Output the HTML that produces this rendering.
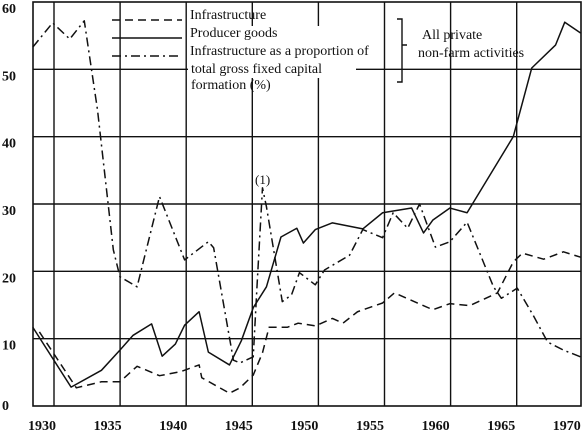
<!DOCTYPE html>
<html><head><meta charset="utf-8"><style>
html,body{margin:0;padding:0;background:#fff}
svg{display:block}
text{font-family:"Liberation Serif",serif;fill:#111}
</style></head><body>
<svg id="c" width="583" height="435" xmlns="http://www.w3.org/2000/svg"></svg>
<script>
const yTicks=[0,10,20,30,40,50,60];
const xTickLabels=[1930,1935,1940,1945,1950,1955,1960,1965,1970];
const infraYears=[1929.5,1932.3,1934.2,1935.6,1936.9,1938.6,1940.2,1941.6,1941.8,1943.9,1944.7,1945.7,1946.4,1946.9,1948.3,1949.1,1950.4,1951.7,1952.5,1953.6,1955.5,1956.4,1959.3,1960.6,1962.1,1964.2,1965.4,1966.1,1967.7,1969.2,1970.5];
const infraValues=[11,2.7,3.6,3.6,5.9,4.5,5.1,6.1,4.2,1.9,2.7,4.6,7.9,11.7,11.7,12.3,11.9,13,12.3,14,15.3,16.8,14.3,15.2,14.9,16.8,21.4,22.7,21.8,22.9,22.1];
const prodYears=[1929.0,1931.9,1934.2,1935.6,1936.6,1938.0,1938.8,1939.8,1940.5,1941.6,1942.3,1943.9,1944.8,1945.7,1946.7,1947.8,1949.0,1949.5,1950.4,1951.7,1954.0,1955.5,1957.7,1958.6,1959.3,1960.6,1961.9,1965.4,1966.8,1968.6,1969.3,1970.5];
const prodValues=[11.7,2.8,5.3,8.3,10.5,12.2,7.4,9.2,12,14,8,6.1,9.7,14.6,17.7,25.1,26.4,24.2,26.2,27.2,26.3,28.7,29.4,25.7,27.6,29.4,28.7,40,50.2,53.6,57,55.4];
const ratioYears=[1929.0,1930.5,1931.8,1932.9,1933.9,1935.1,1935.6,1936.9,1938.6,1940.5,1942.3,1942.7,1944.2,1944.7,1945.7,1946.0,1946.4,1946.7,1947.9,1948.6,1949.2,1950.4,1951.1,1953.0,1954.0,1955.5,1956.3,1957.4,1958.3,1959.5,1960.6,1961.9,1963.9,1964.5,1965.7,1966.9,1968.0,1969.2,1970.5];
const ratioValues=[53.3,56.9,54.5,57.2,44,23.2,19.2,17.7,31.1,21.7,24.4,23.5,6.8,6.4,7.3,18.3,32.4,29.6,15.5,16.5,19.8,18,20.2,22.4,26.2,25,28.7,26.4,30,23.6,24.4,27.3,17.7,16,17.5,13.5,9.5,8.3,7.3];

const svg=document.getElementById('c');
const NS='http://www.w3.org/2000/svg';
const L=33,R=581,T=2,B=406;
function x(yr){return 46+(yr-1930)*13.2;}
function y(v){return B-v*(B-T)/60;}
function mk(tag,attrs,parent){const e=document.createElementNS(NS,tag);for(const k in attrs)e.setAttribute(k,attrs[k]);(parent||svg).appendChild(e);return e;}

let fr=mk('rect',{x:L,y:T,width:R-L,height:B-T,fill:'none',stroke:'#111','stroke-width':1.6});


yTicks.forEach(v=>{
  if(v>0&&v<60){const g=mk('line',{x1:L,x2:R,y1:y(v),y2:y(v),stroke:'#111','stroke-width':1.4});
  
  }
  const t=mk('text',{x:2,y:Math.min(y(v)+11,410),'font-size':14,'font-weight':'bold'});t.textContent=v;
  
  
});
for(let i=0;i<8;i++){
  const gx=54+i*66.1;
  const g=mk('line',{x1:gx,x2:gx,y1:T,y2:B,stroke:'#111','stroke-width':1.4});
  
  
}
xTickLabels.forEach((yr,i)=>{
  const t=mk('text',{x:42+i*65.6,y:430,'font-size':14,'font-weight':'bold','text-anchor':'middle'});t.textContent=yr;
  
  
});
let wp=mk('rect',{x:188,y:26,width:168,height:52,fill:'#fff'});



function series(xs,vs,dash,name){
  const p=mk('polyline',{points:xs.map((yr,i)=>x(yr)+','+y(vs[i])).join(' '),fill:'none',stroke:'#111','stroke-width':1.5,'stroke-dasharray':dash,'stroke-linejoin':'round'});
  
  
}
series(infraYears,infraValues,'8,5','infrastructure-line');
series(prodYears,prodValues,'none','producer-goods-line');
series(ratioYears,ratioValues,'9,4,2,4','infrastructure-proportion-line');

const leg=[['8,5','Infrastructure',20],['none','Producer goods',38],['9,4,2,4','Infrastructure as a proportion of',56]];
leg.forEach(([d,lbl,ly])=>{
  const l=mk('line',{x1:112,x2:182,y1:ly,y2:ly,stroke:'#111','stroke-width':1.5,'stroke-dasharray':d});
  
  
  const t=mk('text',{x:190,y:ly-1,'font-size':14});t.textContent=lbl;
  
  
});
[['total gross fixed capital',73],['formation (%)',89]].forEach(([s,ly])=>{
  const t=mk('text',{x:191,y:ly,'font-size':14});t.textContent=s;
  
  
});
let br=mk('path',{d:'M397 19 H402 V82 H397 M402 45 H407',fill:'none',stroke:'#111','stroke-width':1.4});


[['All private',422,39],['non-farm activities',418,57]].forEach(([s,tx,ty])=>{
  const t=mk('text',{x:tx,y:ty,'font-size':14});t.textContent=s;
  
  
});
let an=mk('text',{x:255,y:184,'font-size':13});an.textContent='(1)';


</script>
</body></html>
